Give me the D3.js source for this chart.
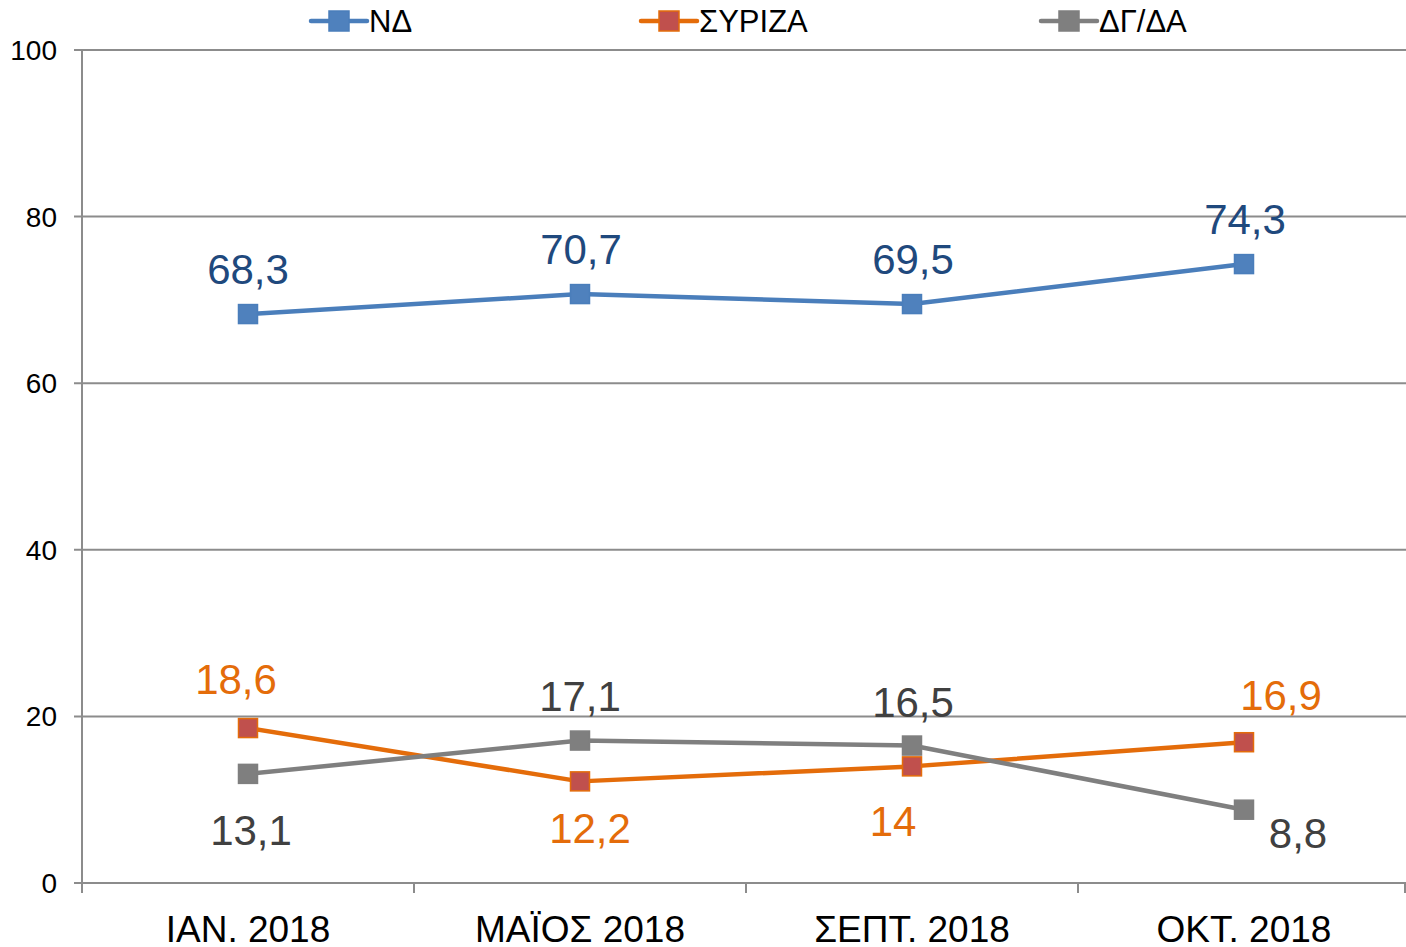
<!DOCTYPE html>
<html>
<head>
<meta charset="utf-8">
<script src="https://cdn.jsdelivr.net/npm/d3@7"></script>
<style>
  body { margin: 0; background: #fff; }
  svg { display: block; font-family: "Liberation Sans", Arial, sans-serif; }
</style>
</head>
<body>
<svg id="chart" width="1406" height="947"></svg>
<script>
let categories = ["ΙΑΝ. 2018", "ΜΑΪΟΣ 2018", "ΣΕΠΤ. 2018", "ΟΚΤ. 2018"]
let seriesNames = ["ΝΔ", "ΣΥΡΙΖΑ", "ΔΓ/ΔΑ"]
let ndValues = [68.3, 70.7, 69.5, 74.3]
let syrizaValues = [18.6, 12.2, 14, 16.9]
let dgdaValues = [13.1, 17.1, 16.5, 8.8]
let yTicks = [0, 20, 40, 60, 80, 100]

// label offsets from each point [dx, dy to baseline]
let ndLabelOffsets = [[0, -30], [1, -30], [1, -30], [1, -30]]
let syrizaLabelOffsets = [[-12, -34], [10, 62], [-19, 70], [37, -32]]
let dgdaLabelOffsets = [[3, 71], [0, -30], [1, -29], [54, 38]]

let series = [
    {name: seriesNames[0], values: ndValues, offs: ndLabelOffsets, line: "#4a7ebb", fill: "#4f81bd", stroke: "#4a7ebb", label: "#1f497d"},
    {name: seriesNames[1], values: syrizaValues, offs: syrizaLabelOffsets, line: "#e46c0a", fill: "#c0504d", stroke: "#e46c0a", label: "#e46c0a"},
    {name: seriesNames[2], values: dgdaValues, offs: dgdaLabelOffsets, line: "#7f7f7f", fill: "#7f7f7f", stroke: "#7f7f7f", label: "#404040"}
]

let svg = d3.select("#chart")
let margin = {left: 82, right: -4, top: 50, bottom: 64}
let width = 1406
let height = 947

let x = d3.scaleBand()
    .domain(categories)
    .range([margin.left, width - margin.right])

let y = d3.scaleLinear()
    .domain([0, 100])
    .range([height - margin.bottom, margin.top])

// gridlines
svg.append("g")
    .selectAll("line")
    .data(yTicks)
    .enter()
    .append("line")
    .attr("x1", margin.left - 8)
    .attr("x2", width)
    .attr("y1", d => y(d))
    .attr("y2", d => y(d))
    .attr("stroke", "#8c8c8c")
    .attr("stroke-width", 2)

// y axis line
svg.append("line")
    .attr("x1", margin.left).attr("x2", margin.left)
    .attr("y1", y(100)).attr("y2", y(0) + 10)
    .attr("stroke", "#8c8c8c").attr("stroke-width", 2)

// y tick labels
svg.append("g")
    .selectAll("text")
    .data(yTicks)
    .enter()
    .append("text")
    .attr("x", 57)
    .attr("y", d => y(d))
    .attr("dy", "0.36em")
    .attr("text-anchor", "end")
    .attr("font-size", 28)
    .attr("fill", "#000")
    .text(d => d)

// category boundary ticks
let bounds = categories.map(c => x(c)).concat([width - 1])
svg.append("g")
    .selectAll("line")
    .data(bounds.slice(1))
    .enter()
    .append("line")
    .attr("x1", d => d).attr("x2", d => d)
    .attr("y1", y(0)).attr("y2", y(0) + 10)
    .attr("stroke", "#8c8c8c").attr("stroke-width", 2)

// category labels
svg.append("g")
    .selectAll("text")
    .data(categories)
    .enter()
    .append("text")
    .attr("x", d => x(d) + x.bandwidth() / 2)
    .attr("y", 942)
    .attr("text-anchor", "middle")
    .attr("font-size", 37)
    .attr("fill", "#000")
    .text(d => d)

let cx = (i) => x(categories[i]) + x.bandwidth() / 2

let line = d3.line()
    .x((d, i) => cx(i))
    .y(d => y(d))

series.forEach(s => {
    let g = svg.append("g")
    g.append("path")
        .attr("d", line(s.values))
        .attr("fill", "none")
        .attr("stroke", s.line)
        .attr("stroke-width", 4.5)
        .attr("stroke-linejoin", "round")

    g.selectAll("rect")
        .data(s.values)
        .enter()
        .append("rect")
        .attr("x", (d, i) => cx(i) - 9.5)
        .attr("y", d => y(d) - 9.5)
        .attr("width", 19)
        .attr("height", 19)
        .attr("fill", s.fill)
        .attr("stroke", s.stroke)
        .attr("stroke-width", 1.5)

    g.selectAll("text")
        .data(s.values)
        .enter()
        .append("text")
        .attr("x", (d, i) => cx(i) + s.offs[i][0])
        .attr("y", (d, i) => y(d) + s.offs[i][1])
        .attr("text-anchor", "middle")
        .attr("font-size", 42)
        .attr("fill", s.label)
        .text(d => String(d).replace(".", ","))
})

// legend
let legendX = [311, 641, 1041]
let legend = svg.append("g")
series.forEach((s, i) => {
    let lx = legendX[i]
    legend.append("line")
        .attr("x1", lx).attr("x2", lx + 56)
        .attr("y1", 21).attr("y2", 21)
        .attr("stroke", s.line).attr("stroke-width", 4.5)
        .attr("stroke-linecap", "round")
    legend.append("rect")
        .attr("x", lx + 18).attr("y", 11)
        .attr("width", 20).attr("height", 20)
        .attr("fill", s.fill).attr("stroke", s.stroke).attr("stroke-width", 1.5)
    legend.append("text")
        .attr("x", lx + 58)
        .attr("y", 32)
        .attr("font-family", "'Liberation Sans Narrow', 'Liberation Sans', Arial, sans-serif")
        .attr("font-size", 31)
        .attr("fill", "#000")
        .text(s.name)
})
</script>
</body>
</html>
